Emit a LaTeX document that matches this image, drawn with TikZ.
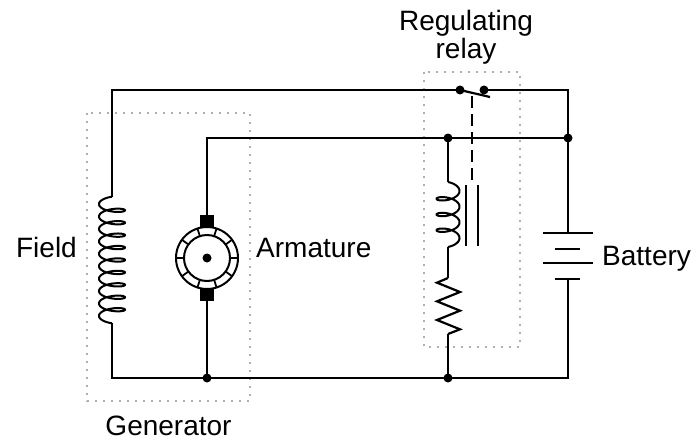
\documentclass[tikz,border=0pt]{standalone}
\usepackage{fontspec}
\setmainfont{Liberation Sans}
\usetikzlibrary{calc}
\definecolor{dotgray}{RGB}{175,175,175}
\begin{document}
\begin{tikzpicture}[x=1pt,y=-1pt,
  wire/.style={line width=2.2pt, line join=miter},
  dotbox/.style={draw=dotgray, line width=2pt, dash pattern=on 2pt off 6pt},
  junc/.style={fill=black},
  lbl/.style={font=\fontsize{28}{25}\selectfont, inner sep=0pt}]
\useasboundingbox (0,0) rectangle (699,442);
% dotted boxes
\draw[dotbox] (87,113) rectangle (250,401);
\draw[dotbox] (424,72) rectangle (520,347);
% key coordinates
\coordinate (TL) at (112,90);
\coordinate (swA) at (460,90);
\coordinate (swB) at (484,90);
\coordinate (swE) at (490,97);
\coordinate (TR) at (568,90);
\coordinate (M1) at (207,138);
\coordinate (MJ) at (448,138);
\coordinate (MR) at (568,138);
\coordinate (BL) at (112,378);
\coordinate (BA) at (207,378);
\coordinate (BJ) at (448,378);
\coordinate (BR) at (568,378);
\coordinate (fcT) at (112,197);
\coordinate (fcB) at (112,323);
\coordinate (arm) at (207,258);
\coordinate (brT) at (207,215);
\coordinate (brB) at (207,301);
\coordinate (rcT) at (448,182);
\coordinate (rcB) at (448,247);
\coordinate (rsT) at (448,278);
\coordinate (rsB) at (448,334);
\coordinate (batT) at (568,233);
\coordinate (batB) at (568,279);
% main wires
\draw[wire] (fcT) -- (TL) -- (swA);
\draw[wire] (swB) -- (TR) -- (batT);
\draw[wire] (brT) -- (M1) -- (MR);
\draw[wire] (fcB) -- (BL) -- (BR) -- (batB);
\draw[wire] (MJ) -- (rcT);
\draw[wire] (rcB) -- (rsT);
\draw[wire] (rsB) -- (BJ);
\draw[wire] (brB) -- (BA);
% field coil
\draw[wire, line width=2pt] plot[domain=-90:3330, samples=900, smooth, variable=\t]
  ({112-13*cos(\t)}, {204.1+0.034503*\t+4.3*sin(\t)});
% relay coil
\draw[wire, line width=2pt] plot[domain=-90:1170, samples=400, smooth, variable=\t]
  ({448+11.5*cos(\t)}, {190.93+0.04365*\t+5*sin(\t)});
% relay core
\draw[wire] (466,185) -- (466,246);
\draw[wire] (478,185) -- (478,246);
% resistor
\draw[wire] (rsT) -- (437,282.67) -- (460,292) -- (437,301.33) -- (460,310.67) -- (437,320) -- (460,329.33) -- (rsB);
% switch
\draw[wire] (swA) -- (swE);
\draw[wire, dash pattern=on 12pt off 6pt] (472,96) -- (472,180);
\fill[junc] (swA) circle (4.5);
\fill[junc] (swB) circle (4.5);
% armature
\draw[wire, line width=2pt] (arm) circle (31);
\draw[wire, line width=2pt] (arm) circle (23);
\foreach \a in {0,36,...,324}
  \draw[line width=1.8pt] ($(arm)+(\a:23)$) -- ($(arm)+(\a:31)$);
\fill (200,215) rectangle (214,228);
\fill (200,288) rectangle (214,301);
\fill (arm) circle (4.5);
% battery
\draw[wire] (543,233) -- (593,233);
\draw[wire] (555,249) -- (580,249);
\draw[wire] (543,263) -- (593,263);
\draw[wire] (555,279) -- (580,279);
% junctions
\fill[junc] (MJ) circle (4.5);
\fill[junc] (MR) circle (4.5);
\fill[junc] (BA) circle (4.5);
\fill[junc] (BJ) circle (4.5);
% labels
\node[lbl, anchor=base east] (field) at (77,257) {Field};
\node[lbl, anchor=base west] (armlbl) at (256,257) {Armature};
\node[lbl, anchor=base west] (batlbl) at (602,265) {Battery};
\node[lbl, anchor=base] (gen) at (168.5,435) {Generator};
\node[lbl, align=center, anchor=center] (reg) at (466,37.3) {Regulating\\relay};
\end{tikzpicture}
\end{document}
